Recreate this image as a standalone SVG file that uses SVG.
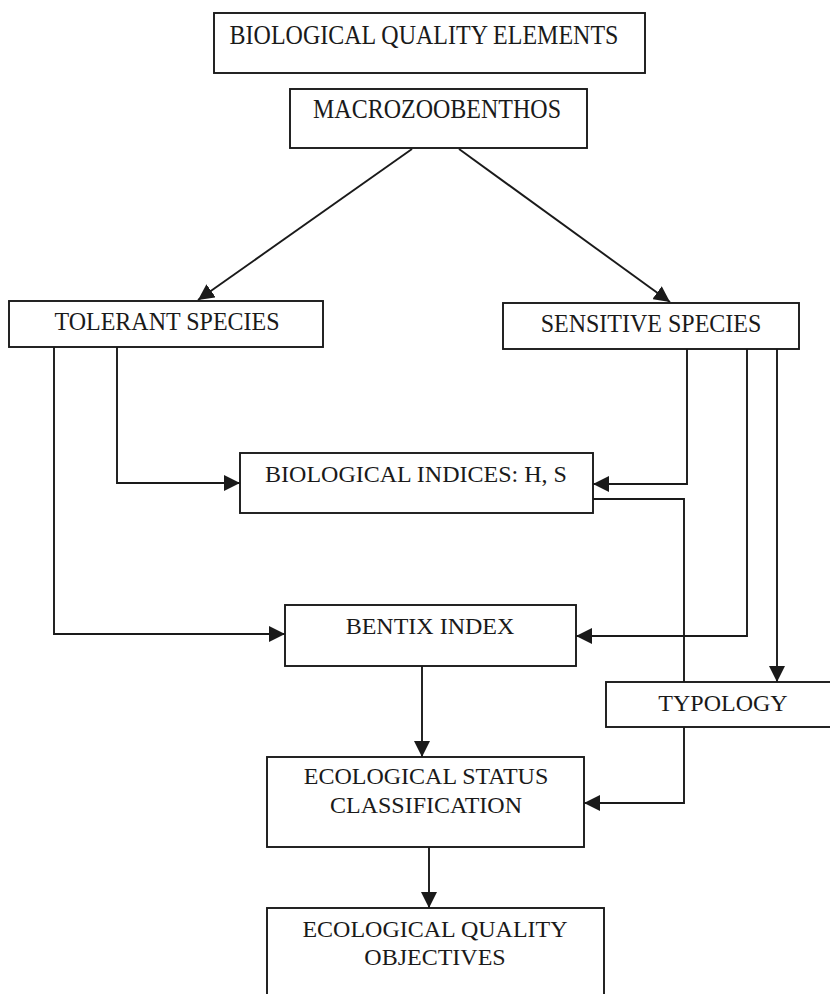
<svg xmlns="http://www.w3.org/2000/svg" width="830" height="994" viewBox="0 0 830 994">
<style>
.box{fill:#fff;stroke:#1a1a1a;stroke-width:1.9}
.lbl{font-family:"Liberation Serif","Times New Roman",serif;font-size:24px;fill:#1a1a1a;text-anchor:middle}
.con{fill:none;stroke:#1a1a1a;stroke-width:1.9;marker-end:url(#ah)}
</style>
<defs>
<marker id="ah" markerUnits="userSpaceOnUse" markerWidth="17" markerHeight="16" refX="16" refY="8" orient="auto" viewBox="0 0 17 16">
<path d="M0,0 L16,8 L0,16 z" fill="#1a1a1a"/>
</marker>
</defs>
<rect width="830" height="994" fill="#fff"/>
<g id="connectors">
<path class="con" d="M412,149 L198,300"/>
<path class="con" d="M459,149 L670,302"/>
<path class="con" d="M117,347 L117,483 L240,483"/>
<path class="con" d="M54,347 L54,634 L285,634"/>
<path class="con" d="M687,349 L687,484 L593,484"/>
<path class="con" d="M747,349 L747,636 L576,636"/>
<path class="con" d="M777,349 L777,682"/>
<path class="con" d="M593,499 L684,499 L684,803 L584,803"/>
<path class="con" d="M422,666 L422,757"/>
<path class="con" d="M429,847 L429,908"/>
</g>
<g id="n-bqe"><rect class="box" x="214" y="13" width="431" height="60"/><text class="lbl" transform="translate(424,44) scale(1,1.15)">BIOLOGICAL QUALITY ELEMENTS</text></g>
<g id="n-macro"><rect class="box" x="290" y="89" width="297" height="59"/><text class="lbl" transform="translate(437,118) scale(1,1.15)">MACROZOOBENTHOS</text></g>
<g id="n-tolerant"><rect class="box" x="9" y="301" width="314" height="46"/><text class="lbl" transform="translate(167,330) scale(1,1.07)">TOLERANT SPECIES</text></g>
<g id="n-sensitive"><rect class="box" x="503" y="303" width="296" height="46"/><text class="lbl" transform="translate(651,332) scale(1,1.07)">SENSITIVE SPECIES</text></g>
<g id="n-bio"><rect class="box" x="240" y="453" width="353" height="60"/><text class="lbl" x="416" y="482">BIOLOGICAL INDICES: H, S</text></g>
<g id="n-bentix"><rect class="box" x="285" y="605" width="291" height="61"/><text class="lbl" x="430" y="634">BENTIX INDEX</text></g>
<g id="n-typology"><rect class="box" x="606" y="682" width="234" height="45"/><text class="lbl" x="723" y="711">TYPOLOGY</text></g>
<g id="n-eco"><rect class="box" x="267" y="757" width="317" height="90"/><text class="lbl" x="426" y="784">ECOLOGICAL STATUS</text><text class="lbl" x="426" y="813">CLASSIFICATION</text></g>
<g id="n-eqo"><rect class="box" x="267" y="908" width="337" height="110"/><text class="lbl" x="435" y="937">ECOLOGICAL QUALITY</text><text class="lbl" x="435" y="965">OBJECTIVES</text></g>
</svg>
